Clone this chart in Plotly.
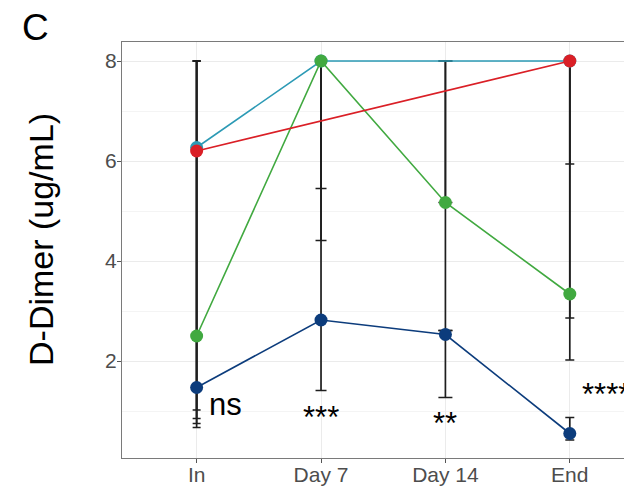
import plotly.graph_objects as go

categories = ["In", "Day 7", "Day 14", "End"]

teal = [6.27, 8.0, None, 8.0]
red = [6.2, None, None, 8.0]
green = [2.5, 8.0, 5.17, 3.34]
blue = [1.47, 2.82, 2.53, 0.55]

# error bar ranges (low, high) per series per timepoint
teal_lo = [0.67, 5.45, 5.17, 5.94]
teal_hi = [8.0, 8.0, 8.0, 8.0]
red_lo = [0.75, None, None, 2.02]
red_hi = [8.0, None, None, 8.0]
green_lo = [0.85, 4.41, 2.61, 2.86]
green_hi = [8.0, 8.0, 8.0, 8.0]
blue_lo = [1.02, 1.41, 1.27, 0.42]
blue_hi = [8.0, 8.0, 2.61, 0.87]

sig_labels = ["ns", "***", "**", "****"]
sig_x = [0.23, 1.0, 2.0, 3.29]
sig_y = [1.14, 0.88, 0.76, 1.34]

c_teal = "#2C9AB5"
c_red = "#DA1F26"
c_green = "#41A940"
c_blue = "#0C3C7C"

cap_w = [4, 5.5, 7, 4.5]

# page body has an 8px margin; figure sized so the plot lands where the reference has it
W, H = 624, 482
ML, MT, MB, MR = 114, 34, 32, 0
PW, PH = W - ML - MR, H - MT - MB

fig = go.Figure()

for i, cat in enumerate(categories):
    lows, highs = [], []
    for lo, hi in ((teal_lo, teal_hi), (red_lo, red_hi), (green_lo, green_hi), (blue_lo, blue_hi)):
        if lo[i] is not None:
            lows.append(lo[i])
            highs.append(hi[i])
    mids = [(a + b) / 2 for a, b in zip(lows, highs)]
    half = [(b - a) / 2 for a, b in zip(lows, highs)]
    fig.add_trace(go.Scatter(
        x=[cat] * len(mids), y=mids, mode="markers",
        marker=dict(size=1, opacity=0),
        error_y=dict(type="data", array=half, symmetric=True,
                     color="#1e1e1e", thickness=1.7, width=cap_w[i]),
        showlegend=False, hoverinfo="skip"))

for vals, col in ((teal, c_teal), (green, c_green), (red, c_red), (blue, c_blue)):
    fig.add_trace(go.Scatter(
        x=categories, y=vals, mode="lines+markers", connectgaps=True,
        line=dict(color=col, width=1.6),
        marker=dict(color=col, size=13),
        showlegend=False))

for t, x, y in zip(sig_labels, sig_x, sig_y):
    fig.add_annotation(x=x, y=y, xref="x", yref="y", text=t, showarrow=False,
                       font=dict(family="Liberation Sans, Arial", size=31, color="black"),
                       xanchor="center", yanchor="middle")

# panel label "C"
fig.add_annotation(xref="paper", yref="paper", x=(12 - ML) / PW, y=1 + (MT + 3) / PH,
                   text="C", showarrow=False, xanchor="left", yanchor="top",
                   font=dict(family="Liberation Sans, Arial", size=37, color="black"))

# y axis title
fig.add_annotation(xref="paper", yref="paper", x=(33 - ML) / PW, y=1 - (232 - MT) / PH,
                   text="D-Dimer (ug/mL)", showarrow=False, textangle=-90,
                   xanchor="center", yanchor="middle",
                   font=dict(family="Liberation Sans, Arial", size=34, color="black"))

fig.update_layout(
    width=W, height=H,
    margin=dict(l=ML, r=MR, t=MT, b=MB, autoexpand=False),
    paper_bgcolor="white", plot_bgcolor="white",
    font=dict(family="Liberation Sans, Arial", size=21, color="#4d4d4d"),
    xaxis=dict(type="category", categoryorder="array", categoryarray=categories,
               range=[-0.6, 3.5], showgrid=True, gridcolor="#EBEBEB", gridwidth=1,
               showline=True, linecolor="#7a7a7a", linewidth=1, mirror=True,
               ticks="outside", ticklen=4, tickcolor="#555", tickwidth=1,
               ticklabelstandoff=-6,
               tickfont=dict(size=21, color="#4d4d4d"), zeroline=False),
    yaxis=dict(range=[0.06, 8.38], tickvals=[2, 4, 6, 8], showgrid=True,
               gridcolor="#EBEBEB", gridwidth=1,
               minor=dict(tickvals=[1, 3, 5, 7], showgrid=True, gridcolor="#F4F4F4", gridwidth=1, ticks=""),
               showline=True, linecolor="#7a7a7a", linewidth=1, mirror=False,
               ticks="outside", ticklen=4, tickcolor="#555", tickwidth=1,
               ticklabelstandoff=-4,
               tickfont=dict(size=21, color="#4d4d4d"), zeroline=False),
)

fig.write_html("out.html")
